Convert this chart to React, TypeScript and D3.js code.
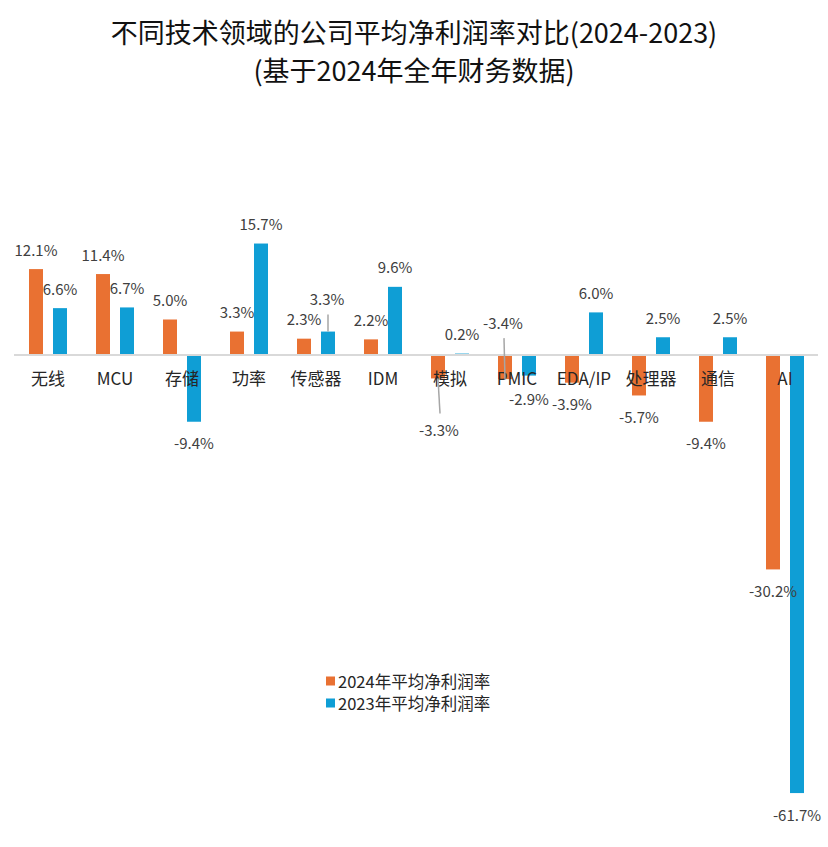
import * as d3 from 'd3'

const categories = ['无线', 'MCU', '存储', '功率', '传感器', 'IDM', '模拟', 'PMIC', 'EDA/IP', '处理器', '通信', 'AI']
const seriesNames = ['2024年平均净利润率', '2023年平均净利润率']
const margin2024 = [12.1, 11.4, 5.0, 3.3, 2.3, 2.2, -3.3, -3.4, -3.9, -5.7, -9.4, -30.2]
const margin2023 = [6.6, 6.7, -9.4, 15.7, 3.3, 9.6, 0.2, -2.9, 6.0, 2.5, 2.5, -61.7]
const colors = ['#E97132', '#0F9ED5']

// labels dragged away from their bar (with a leader line), offset from the bar end
const movedLabels: Record<string, { dx: number; dy: number; leader: boolean }> = {
  '1-传感器': { dx: -1, dy: -33, leader: true },
  '0-模拟': { dx: 1, dy: 51, leader: true },
  '0-PMIC': { dx: -2, dy: -57, leader: true },
  '1-PMIC': { dx: 0, dy: 23, leader: false },
}

const W = 828
const H = 847
const font = '"Noto Sans CJK SC", "Noto Sans", sans-serif'

export default function App() {
  const xCat = d3.scaleBand().domain(categories).range([14.5, 818.5])
  const xSer = d3.scaleBand().domain(['0', '1']).range([0, 38]).paddingInner(0.4167)
  const y = d3.scaleLinear().domain([-70, 20]).range([852, 213])
  const series = [margin2024, margin2023]
  const zero = y(0)

  const bars: any[] = []
  const labels: any[] = []

  series.forEach((vals, si) => {
    vals.forEach((v, ci) => {
      const cat = categories[ci]
      const cx = (xCat(cat) ?? 0) + xCat.bandwidth() / 2
      const bx = cx - 19 + (xSer(String(si)) ?? 0)
      const barCx = bx + xSer.bandwidth() / 2
      const end = y(v)
      bars.push(
        <rect key={'b' + si + ci} x={bx} y={Math.min(end, zero)} width={xSer.bandwidth()} height={Math.abs(end - zero)} fill={colors[si]} />,
      )
      const moved = movedLabels[si + '-' + cat]
      const dx = moved ? moved.dx : 0
      const dy = moved ? moved.dy : v >= 0 ? -20 : 21
      const lx = barCx + dx
      const ly = end + dy
      if (moved && moved.leader) {
        const dir = dy < 0 ? 1 : -1
        labels.push(
          <line key={'k' + si + ci} x1={lx + 1} y1={ly + dir * 16} x2={barCx} y2={end} stroke="#a6a6a6" strokeWidth={1.5} />,
        )
      }
      labels.push(
        <text key={'l' + si + ci} x={lx} y={ly} textAnchor="middle" dominantBaseline="central" fontSize={15} fill="#404040">
          {v.toFixed(1) + '%'}
        </text>,
      )
    })
  })

  return (
    <svg width={W} height={H} style={{ position: 'absolute', left: 0, top: 0, background: '#fff' }} fontFamily={font}>
      <text x={414} y={31} textAnchor="middle" dominantBaseline="central" fontSize={27} fill="#111">
        {'不同技术领域的公司平均净利润率对比(2024-2023)'}
      </text>
      <text x={414} y={69} textAnchor="middle" dominantBaseline="central" fontSize={27} fill="#111">
        {'(基于2024年全年财务数据)'}
      </text>
      {bars}
      <line x1={14} x2={818} y1={zero} y2={zero} stroke="#d9d9d9" strokeWidth={2} />
      {categories.map((c) => (
        <text key={c} x={(xCat(c) ?? 0) + xCat.bandwidth() / 2} y={377} textAnchor="middle" dominantBaseline="central" fontSize={17} fill="#262626">
          {c}
        </text>
      ))}
      {labels}
      {seriesNames.map((name, i) => (
        <g key={name} transform={'translate(326,' + (681 + i * 22) + ')'}>
          <rect x={0} y={-4.5} width={9} height={9} fill={colors[i]} />
          <text x={12} y={0} dominantBaseline="central" fontSize={16.5} fill="#262626">
            {name}
          </text>
        </g>
      ))}
    </svg>
  )
}
